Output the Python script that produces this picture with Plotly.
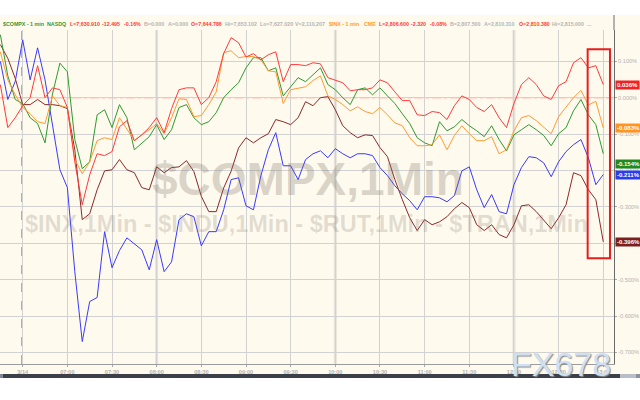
import plotly.graph_objects as go

# ---------------- data ----------------
times = [
    "06:15", "06:20", "06:25", "06:30", "06:35", "06:40", "06:45", "06:50", "06:55",
    "07:00", "07:05", "07:10", "07:15", "07:20", "07:25", "07:30", "07:35", "07:40", "07:45", "07:50", "07:55",
    "08:00", "08:05", "08:10", "08:15", "08:20", "08:25", "08:30", "08:35", "08:40", "08:45", "08:50", "08:55",
    "09:00", "09:05", "09:10", "09:15", "09:20", "09:25", "09:30", "09:35", "09:40", "09:45", "09:50", "09:55",
    "10:00", "10:05", "10:10", "10:15", "10:20", "10:25", "10:30", "10:35", "10:40", "10:45", "10:50", "10:55",
    "11:00", "11:05", "11:10", "11:15", "11:20", "11:25", "11:30", "11:35", "11:40", "11:45", "11:50", "11:55",
    "12:00", "12:05", "12:10", "12:15", "12:20", "12:25", "12:30", "12:35", "12:40", "12:45", "12:50", "12:55",
    "13:00",
]

indu = [  # red
    0.036, -0.082, -0.055, -0.022, 0.000, 0.088, 0.000, 0.027, 0.022,
    -0.027, -0.176, -0.294, -0.212, -0.154, -0.159, -0.148, -0.080, -0.063, -0.118, -0.102, -0.082,
    -0.055, -0.096, -0.030, 0.022, 0.027, 0.027, -0.019, 0.000, 0.044, 0.121, 0.165, 0.151,
    0.112, 0.121, 0.104, 0.118, 0.126, 0.044, 0.091, 0.091, 0.088, 0.096, 0.093, 0.055,
    0.047, 0.041, 0.019, 0.022, 0.022, 0.027, 0.049, 0.041, 0.016, -0.008, -0.008, -0.047,
    -0.049, -0.038, -0.041, -0.060, -0.022, 0.005, -0.005, -0.027, -0.038, -0.019, -0.055, -0.082,
    -0.016, 0.036, 0.055, 0.036, 0.005, -0.005, 0.033, 0.044, 0.096, 0.110, 0.082, 0.088,
    0.036,
]
inx = [  # orange
    0.126, 0.049, 0.008, -0.027, -0.044, -0.066, -0.071, 0.005, -0.022,
    -0.027, -0.170, -0.209, -0.176, -0.118, -0.110, -0.115, -0.055, -0.088, -0.118, -0.102, -0.088,
    -0.071, -0.099, -0.055, -0.003, -0.005, -0.052, -0.049, -0.019, 0.016, 0.124, 0.129, 0.110,
    0.113, 0.113, 0.104, 0.074, 0.071, -0.016, 0.022, 0.027, 0.030, 0.047, 0.060, 0.005,
    -0.005, -0.019, -0.036, -0.025, -0.038, -0.044, -0.027, -0.047, -0.069, -0.077, -0.110, -0.132,
    -0.132, -0.129, -0.102, -0.143, -0.104, -0.077, -0.099, -0.118, -0.118, -0.107, -0.154, -0.143,
    -0.091, -0.055, -0.049, -0.063, -0.082, -0.099, -0.052, -0.027, 0.000, 0.020, -0.020, -0.010,
    -0.083,
]
compx = [  # green
    0.173, 0.060, -0.005, -0.016, -0.055, -0.071, -0.124, 0.010, 0.095,
    0.071, -0.115, -0.195, -0.176, -0.047, -0.033, -0.082, -0.019, -0.055, -0.143, -0.124, -0.107,
    -0.074, -0.115, -0.088, -0.027, -0.019, -0.055, -0.074, -0.066, -0.041, 0.000, 0.022, 0.041,
    0.082, 0.110, 0.110, 0.074, 0.082, 0.005, 0.030, 0.055, 0.044, 0.063, 0.082, 0.036,
    0.022, 0.000, -0.019, 0.022, 0.027, 0.008, 0.027, 0.005, -0.016, -0.044, -0.071, -0.110,
    -0.124, -0.132, -0.066, -0.091, -0.080, -0.060, -0.077, -0.091, -0.107, -0.077, -0.115, -0.146,
    -0.102, -0.088, -0.074, -0.088, -0.104, -0.132, -0.099, -0.082, -0.036, -0.005, -0.047, -0.074,
    -0.154,
]
rut = [  # blue
    0.100, -0.005, 0.045, 0.159, 0.049, 0.137, 0.049, -0.074, -0.198,
    -0.247, -0.478, -0.670, -0.560, -0.549, -0.368, -0.467, -0.420, -0.385, -0.401, -0.418, -0.473,
    -0.390, -0.478, -0.451, -0.335, -0.319, -0.327, -0.407, -0.368, -0.368, -0.308, -0.225, -0.220,
    -0.297, -0.308, -0.214, -0.143, -0.096, -0.187, -0.187, -0.225, -0.170, -0.154, -0.146, -0.165,
    -0.140, -0.154, -0.165, -0.154, -0.154, -0.159, -0.192, -0.214, -0.242, -0.264, -0.283, -0.308,
    -0.272, -0.272, -0.275, -0.286, -0.269, -0.201, -0.190, -0.253, -0.302, -0.266, -0.313, -0.319,
    -0.239, -0.192, -0.162, -0.165, -0.179, -0.217, -0.176, -0.148, -0.129, -0.115, -0.165, -0.239,
    -0.211,
]
tran = [  # brown
    0.146, 0.108, 0.053, -0.019, -0.019, -0.005, -0.019, -0.019, -0.022,
    -0.030, -0.143, -0.335, -0.319, -0.253, -0.201, -0.198, -0.170, -0.198, -0.206, -0.247, -0.253,
    -0.190, -0.206, -0.192, -0.190, -0.173, -0.203, -0.271, -0.313, -0.313, -0.248, -0.202, -0.138,
    -0.110, -0.124, -0.110, -0.099, -0.060, -0.066, -0.074, -0.055, -0.011, -0.022, 0.000, 0.003,
    -0.033, -0.077, -0.096, -0.110, -0.102, -0.104, -0.137, -0.162, -0.225, -0.280, -0.330, -0.365,
    -0.335, -0.349, -0.341, -0.327, -0.305, -0.288, -0.302, -0.349, -0.365, -0.349, -0.376, -0.385,
    -0.349, -0.297, -0.294, -0.313, -0.335, -0.360, -0.330, -0.294, -0.206, -0.214, -0.253, -0.280,
    -0.396,
]

series_names = ["$TRAN", "$RUT", "$COMPX", "$INX", "$INDU"]
series_values = [tran, rut, compx, inx, indu]
series_colors = ["#8b2a2a", "#3a3aff", "#2f9a2f", "#ff9a33", "#ff3a3a"]
tag_colors = ["#7a1e1e", "#2a3cf0", "#1f8a1f", "#ff9422", "#ee2424"]
tag_labels = ["-0.396%", "-0.211%", "-0.154%", "-0.083%", "0.036%"]
tag_shift = [0, 0, -10, 0, 0]

tick_times = ["06:30", "07:00", "07:30", "08:00", "08:30", "09:00", "09:30", "10:00",
              "10:30", "11:00", "11:30", "12:00", "12:30", "13:00"]
tick_labels = ["3/14", "07:00", "07:30", "08:00", "08:30", "09:00", "09:30", "10:00",
               "10:30", "11:00", "11:30", "12:00", "12:30", "13:00"]
y_ticks = [0.1, 0.0, -0.1, -0.2, -0.3, -0.4, -0.5, -0.6, -0.7]
y_tick_labels = ["0.100%", "0.000%", "-0.100%", "-0.200%", "-0.300%", "-0.400%",
                 "-0.500%", "-0.600%", "-0.700%"]

hdr_texts = ["$COMPX - 1 min", "NASDQ", "L=7,630.910", "-12.495", "-0.16%", "B=0.000", "A=0.000",
             "O=7,644.786", "Hi=7,653.102", "Lo=7,627.020", "V=2,110,207",
             "$INX - 1 min", "CME", "L=2,806.600", "-2.320", "-0.08%", "B=2,807.500",
             "A=2,810.310", "O=2,810.380", "Hi=2,815.000", "..."]
hdr_kind = ["g", "g", "r", "r", "r", "n", "n", "r", "n", "n", "n",
            "o", "o", "r", "r", "r", "n", "n", "r", "n", "n"]
hdr_px = [1, 45, 68, 100, 122, 142, 166, 189, 223, 258, 293,
          327, 362, 377, 409, 428, 448, 482, 517, 550, 585]


def tmin(s):
    h, m = s.split(":")
    return int(h) * 60 + int(m)


x = [tmin(t) for t in times]

# ---------------- geometry helpers ----------------
W, H = 640, 400
ML, MR, MT, MB = 0, 26, 30, 36
PW, PH = W - ML - MR, H - MT - MB


def px_x(p):
    return (p - ML) / PW


def px_y(p):
    return (H - MB - p) / PH


FONT = "Liberation Sans, Arial, sans-serif"
CREAM = "#fffaee"

fig = go.Figure()
for name, vals, col in zip(series_names, series_values, series_colors):
    fig.add_trace(go.Scatter(x=x, y=vals, mode="lines", name=name,
                             line=dict(color=col, width=1), hoverinfo="skip"))

shapes = []
for t in ["08:00", "10:00", "12:00"]:
    shapes.append(dict(type="line", xref="x", yref="paper", x0=tmin(t), x1=tmin(t), y0=0, y1=1,
                       line=dict(color="#e6e3dc", width=3), layer="below"))
shapes.append(dict(type="line", xref="paper", yref="y", x0=0, x1=1, y0=0, y1=0,
                   line=dict(color="#ff6060", width=1, dash="dashdot"), layer="below"))
shapes.append(dict(type="line", xref="x", yref="paper", x0=tmin("06:30") - 0.6, x1=tmin("06:30") - 0.6,
                   y0=0, y1=1, line=dict(color="#ff6060", width=1, dash="dash"), layer="below"))
shapes.append(dict(type="rect", xref="x", yref="y", x0=769.5, x1=784.5, y0=-0.441, y1=0.133,
                   line=dict(color="#e81e1e", width=2), layer="above"))
shapes.append(dict(type="line", xref="paper", yref="paper", x0=1, x1=1, y0=1, y1=px_y(15),
                   line=dict(color="#6a6a6a", width=1), layer="above"))
shapes.append(dict(type="rect", xref="paper", yref="paper", x0=-0.01, x1=1.1, y0=px_y(15), y1=px_y(-5),
                   fillcolor="white", line=dict(width=0), layer="above"))
shapes.append(dict(type="rect", xref="paper", yref="paper", x0=-0.01, x1=1.1, y0=px_y(405), y1=px_y(378),
                   fillcolor="white", line=dict(width=0), layer="above"))
shapes.append(dict(type="rect", xref="paper", yref="paper", x0=px_x(0), x1=px_x(620), y0=px_y(378), y1=px_y(374),
                   fillcolor="#3b4049", line=dict(width=0), layer="above"))
shapes.append(dict(type="rect", xref="paper", yref="paper", x0=px_x(0), x1=px_x(3), y0=px_y(378), y1=px_y(374),
                   fillcolor="#7f8898", line=dict(width=0), layer="above"))
shapes.append(dict(type="rect", xref="paper", yref="paper", x0=px_x(620), x1=px_x(636), y0=px_y(378), y1=px_y(374),
                   fillcolor="#b9bdc8", line=dict(width=0), layer="above"))
shapes.append(dict(type="rect", xref="paper", yref="paper", x0=px_x(636), x1=px_x(641), y0=px_y(378), y1=px_y(374),
                   fillcolor="#8a909e", line=dict(width=0), layer="above"))

annotations = []
annotations.append(dict(text="$COMPX,1Min", xref="paper", yref="paper", x=px_x(308), y=px_y(179),
                        showarrow=False, xanchor="center", yanchor="middle",
                        font=dict(family=FONT, size=46, color="rgba(120,115,100,0.28)", weight="bold")))
annotations.append(dict(text="$INX,1Min - $INDU,1Min - $RUT,1Min - $TRAN,1Min", xref="paper", yref="paper",
                        x=px_x(306), y=px_y(224), showarrow=False, xanchor="center", yanchor="middle",
                        font=dict(family=FONT, size=23.5, color="rgba(120,115,100,0.22)", weight="bold")))
annotations.append(dict(text="FX678", xref="paper", yref="paper", x=px_x(561), y=px_y(364),
                        showarrow=False, xanchor="center", yanchor="middle",
                        font=dict(family=FONT, size=34, color="#cfe0f4", shadow="1px 1px 1px #8a8a8a")))
kind_col = {"g": "#36963a", "r": "#ff3a3a", "n": "#b4b4b4", "o": "#ff9a33"}
for txt, k, p in zip(hdr_texts, hdr_kind, hdr_px):
    annotations.append(dict(text=txt, xref="paper", yref="paper", x=px_x(p), y=px_y(24),
                            showarrow=False, xanchor="left", yanchor="middle",
                            font=dict(family=FONT, size=5.3, color=kind_col[k], weight="bold")))
for vals, col, lab, sh in zip(series_values, tag_colors, tag_labels, tag_shift):
    annotations.append(dict(text=lab, xref="paper", yref="y", x=1.0, y=vals[-1], yshift=sh,
                            showarrow=False, xanchor="left", yanchor="middle", bgcolor=col,
                            borderpad=1, xshift=1,
                            font=dict(family=FONT, size=6, color="white", weight="bold")))

fig.update_layout(
    width=W, height=H,
    margin=dict(l=ML, r=MR, t=MT, b=MB, autoexpand=False),
    paper_bgcolor=CREAM, plot_bgcolor=CREAM,
    showlegend=False,
    font=dict(family=FONT),
    shapes=shapes,
    annotations=annotations,
    xaxis=dict(range=[374.75, 787.2], tickvals=[tmin(t) for t in tick_times], ticktext=tick_labels,
               showgrid=True, gridcolor="#d2d2d2", gridwidth=1, zeroline=False,
               showline=True, linecolor="#9c9c9c", linewidth=1, automargin=False,
               ticks="outside", ticklen=2, tickcolor="#a8a8a8",
               tickfont=dict(family=FONT, size=5.6, color="#b2b2b2", weight="bold")),
    yaxis=dict(range=[-0.7316, 0.186], side="right", tickvals=y_ticks, ticktext=y_tick_labels,
               showgrid=True, gridcolor="#d2d2d2", gridwidth=1, zeroline=False,
               showline=True, linecolor="#6a6a6a", linewidth=1, automargin=False,
               ticks="outside", ticklen=2, tickcolor="#a8a8a8",
               tickfont=dict(family=FONT, size=5.6, color="#b2b2b2")),
)

fig.write_html("out.html",
               config={"displayModeBar": False, "staticPlot": True},
               post_script="document.body.style.margin='0';document.body.style.padding='0';")
